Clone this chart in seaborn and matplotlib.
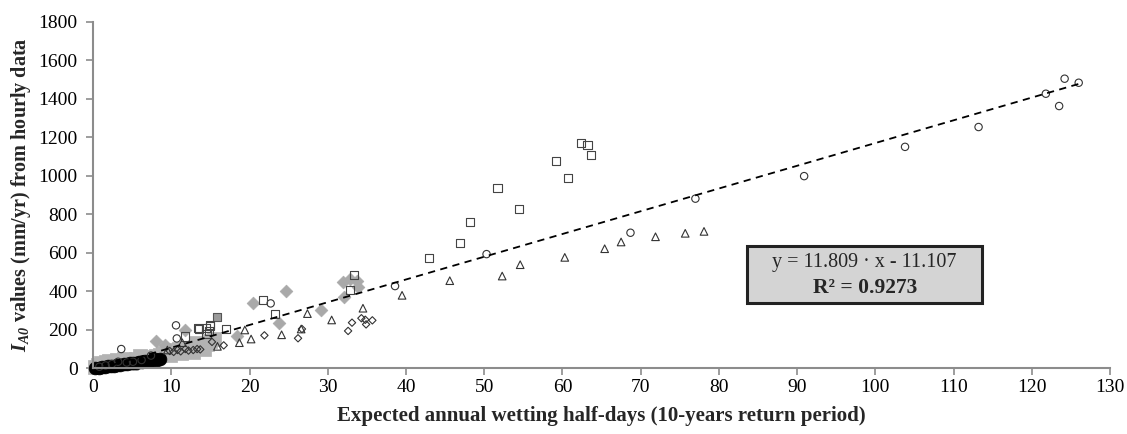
import numpy as np
import pandas as pd
import matplotlib
matplotlib.use("Agg")
import matplotlib.pyplot as plt
from matplotlib.patches import Rectangle
import seaborn as sns

# ---------------- data ----------------
circ_x = [0.8, 1.6, 2.4, 3.2, 3.6, 4.3, 5.1, 6.2, 7.4, 10.6, 10.7, 22.7, 38.6,
          50.3, 68.7, 77.0, 90.9, 103.8, 113.2, 121.8, 123.5, 124.2, 126.0]
circ_y = [8, 15, 22, 34, 100, 30, 34, 43, 66, 223, 155, 337, 427,
          593, 704, 881, 998, 1150, 1253, 1426, 1362, 1504, 1483]

sq_x = [11.8, 13.4, 13.5, 14.4, 14.5, 14.8, 14.9, 15.0, 17.0, 21.7, 23.3, 32.8,
        33.4, 42.9, 46.9, 48.2, 51.7, 54.4, 59.2, 60.7, 62.4, 63.2, 63.7]
sq_y = [165, 208, 204, 211, 177, 194, 220, 226, 204, 356, 283, 407,
        484, 574, 649, 760, 938, 829, 1078, 989, 1168, 1158, 1109]

tri_x = [9.5, 11.4, 15.9, 18.7, 19.4, 20.2, 24.1, 26.6, 27.4, 30.5, 34.5, 39.5,
         45.6, 52.3, 54.6, 60.3, 65.4, 67.5, 71.9, 75.7, 78.1]
tri_y = [95, 133, 114, 133, 199, 152, 174, 204, 284, 251, 312, 379,
         455, 479, 538, 576, 621, 656, 683, 701, 711]

dia_x = [9.8, 10.3, 10.8, 11.2, 11.8, 12.2, 12.8, 13.3, 13.7, 15.2, 16.7, 21.9,
         26.2, 26.7, 32.6, 33.1, 34.3, 34.8, 34.9, 35.7]
dia_y = [90, 85, 95, 88, 100, 92, 95, 100, 98, 137, 119, 171,
         156, 204, 194, 237, 260, 252, 228, 249]

gdia_x = [8.0, 9.2, 11.8, 18.4, 20.4, 23.8, 24.7, 29.1, 31.9, 32.1, 32.9, 33.8, 33.9]
gdia_y = [144, 121, 199, 170, 337, 237, 401, 302, 446, 369, 463, 455, 424]

gsq_x = [15.9]
gsq_y = [268]

gband_x = [0.3, 0.6, 1.0, 1.3, 1.7, 2.0, 2.5, 3.0, 3.5, 4.0, 4.5, 5.0, 5.5, 6.0,
           6.5, 7.0, 7.5, 8.0, 8.5, 9.0, 9.5, 10.0, 10.5, 11.0, 11.5, 12.0,
           12.5, 13.0, 13.5, 14.0, 14.5, 15.0, 15.5, 2.2, 3.2, 4.8, 6.8, 9.8,
           12.8, 14.2, 13.2, 11.2]
gband_y = [5, 18, 28, 20, 32, 38, 30, 42, 35, 48, 42, 40, 50, 62,
           52, 58, 50, 66, 70, 82, 90, 88, 95, 100, 92, 98,
           102, 110, 120, 128, 125, 140, 150, 18, 25, 30, 40, 70,
           85, 100, 130, 80]

blk_x = [0.3, 0.7, 1.1, 1.5, 1.9, 2.3, 2.7, 3.1, 3.5, 3.9, 4.3, 4.7, 5.1, 5.5,
         5.9, 6.3, 6.7, 7.1, 7.5, 7.9, 8.2, 8.5]
blk_y = [2, 4, 6, 8, 10, 12, 14, 17, 19, 21, 23, 26, 28, 30,
         33, 35, 37, 40, 42, 46, 44, 50]

slope, intercept = 11.809, -11.107
r2 = 0.9273

# ---------------- style ----------------
sns.set_theme(style="white")
plt.rcParams["font.family"] = ["Liberation Serif", "DejaVu Serif"]
plt.rcParams["mathtext.fontset"] = "custom"
plt.rcParams["mathtext.it"] = "Liberation Serif:bold:italic"
plt.rcParams["mathtext.rm"] = "Liberation Serif:bold:italic"
plt.rcParams["mathtext.bf"] = "Liberation Serif:bold"

fig = plt.figure(figsize=(11.27, 4.34), dpi=100)
ax = fig.add_axes([0.0826, 0.1514, 0.9023, 0.7986])

grey = "#a9a9a9"
common = dict(ax=ax, legend=False, clip_on=False)

sns.scatterplot(x=gband_x, y=gband_y, marker="s", s=110, color="#b3b3b3",
                edgecolor="#b3b3b3", linewidth=0.5, **common)
sns.scatterplot(x=blk_x, y=blk_y, marker="o", s=85, color="black",
                edgecolor="black", linewidth=0.5, **common)
sns.scatterplot(x=gdia_x, y=gdia_y, marker="D", s=42, color=grey,
                edgecolor=grey, linewidth=0.5, **common)
sns.scatterplot(x=gsq_x, y=gsq_y, marker="s", s=40, color="#9a9a9a",
                edgecolor="#555555", linewidth=0.8, **common)
sns.scatterplot(x=circ_x, y=circ_y, marker="o", s=28, facecolor="none",
                edgecolor="#333333", linewidth=0.8, **common)
sns.scatterplot(x=sq_x, y=sq_y, marker="s", s=34, facecolor="none",
                edgecolor="#444444", linewidth=0.8, **common)
sns.scatterplot(x=tri_x, y=tri_y, marker="^", s=30, facecolor="none",
                edgecolor="#333333", linewidth=0.8, **common)
sns.scatterplot(x=dia_x, y=dia_y, marker="D", s=14, facecolor="none",
                edgecolor="#333333", linewidth=0.8, **common)

# trend line from the fitted coefficients
xs = np.array([-intercept / slope, max(circ_x)])
sns.lineplot(x=xs, y=slope * xs + intercept, ax=ax, color="black",
             linestyle=(0, (4, 3)), linewidth=1.3)

ax.set_xlim(0, 130)
ax.set_ylim(0, 1800)
ax.set_xticks(np.arange(0, 131, 10))
ax.set_yticks(np.arange(0, 1801, 200))
for s in ["top", "right"]:
    ax.spines[s].set_visible(False)
for s in ["left", "bottom"]:
    ax.spines[s].set_color("#8c8c8c")
    ax.spines[s].set_linewidth(1.5)
ax.tick_params(axis="both", which="major", length=5, width=1.2,
               color="#8c8c8c", labelsize=14, labelcolor="black", pad=3,
               direction="out", bottom=True, left=True)
ax.tick_params(axis="y", pad=6)

ax.set_xlabel("Expected annual wetting half-days (10-years return period)",
              fontsize=15, fontweight="bold", labelpad=7)
ax.set_ylabel(r"$I_{A0}$ values (mm/yr) from hourly data",
              fontsize=14.5, fontweight="bold", labelpad=4)

# equation box
ax.add_patch(Rectangle((0.6433, 0.188), 0.2307, 0.165, transform=ax.transAxes,
                       facecolor="#d4d4d4", edgecolor="#222222", linewidth=2.2,
                       zorder=5))
ax.text(0.7588, 0.305, f"y = {slope:.3f} · x - {abs(intercept):.3f}",
        transform=ax.transAxes, ha="center", va="center", fontsize=14.5,
        zorder=6)
ax.text(0.7588, 0.233, f"R² = {r2:.4f}", transform=ax.transAxes,
        ha="center", va="center", fontsize=15.5, fontweight="bold", zorder=6)

fig.savefig("out.png", dpi=100)
